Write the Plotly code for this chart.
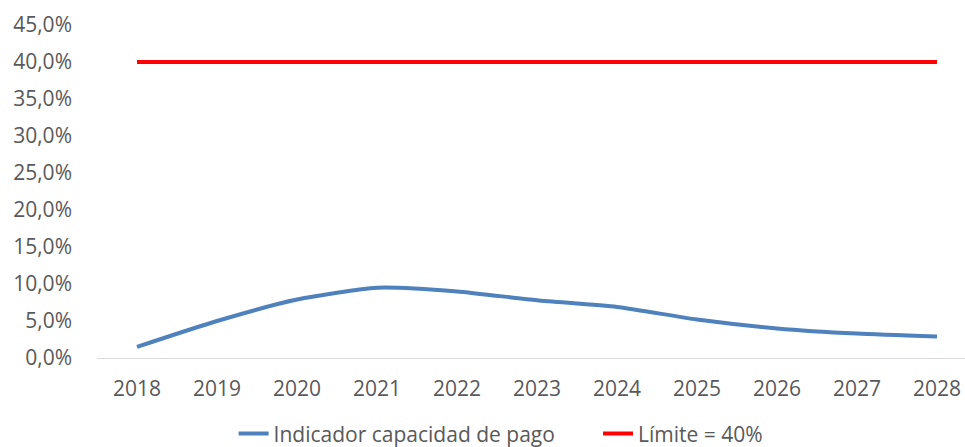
import plotly.graph_objects as go

years = ["2018", "2019", "2020", "2021", "2022", "2023", "2024", "2025", "2026", "2027", "2028"]
indicador = [0.015, 0.050, 0.079, 0.095, 0.090, 0.078, 0.069, 0.052, 0.040, 0.033, 0.029]
limite = [0.40] * len(years)

fig = go.Figure()
fig.add_trace(go.Scatter(x=years, y=indicador, mode="lines",
                         name="Indicador capacidad de pago" + "\u00a0" * 7,
                         line=dict(color="#4F81BD", width=4, shape="spline", smoothing=0.6)))
fig.add_trace(go.Scatter(x=years, y=limite, mode="lines", name="Límite = 40%",
                         line=dict(color="#FF0000", width=4)))

fig.update_layout(
    width=965, height=447,
    margin=dict(l=97, r=0, t=25, b=89, autoexpand=False),
    paper_bgcolor="white", plot_bgcolor="white",
    separators=",.",
    font=dict(family="Open Sans, Noto Sans, sans-serif", color="#595959", size=21),
    showlegend=True,
    legend=dict(orientation="h", x=0.465, xanchor="center", y=-0.228, yanchor="middle",
                font=dict(size=21), traceorder="normal"),
)
fig.update_xaxes(type="category", range=[-0.5, 10.35], showgrid=False, showline=False,
                 ticks="", tickfont=dict(size=21), automargin=False, ticklabelstandoff=16)
fig.update_yaxes(range=[0, 0.45], dtick=0.05, tickformat=".1%", showgrid=False,
                 zeroline=True, zerolinecolor="#D9D9D9", zerolinewidth=1,
                 showline=False, ticks="", ticklabelstandoff=24, tickfont=dict(size=21),
                 automargin=False)

fig.write_html("out.html", config={"displayModeBar": False},
               post_script="document.body.style.margin='0';document.body.style.overflow='hidden';")
